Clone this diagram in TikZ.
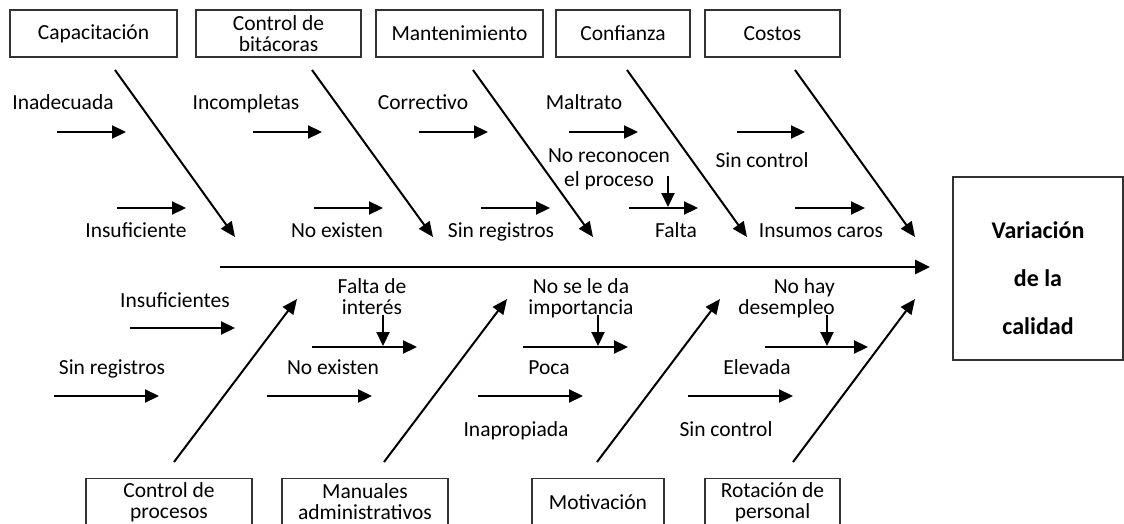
\documentclass[tikz,border=0pt]{standalone}
\usepackage{fontspec}
\setmainfont{Carlito}
\usetikzlibrary{arrows.meta}
\newcommand{\causefont}{\fontsize{21.5}{21}\selectfont}
\tikzset{
  causebox/.style={draw=black!80, line width=1.3pt, minimum height=47pt, inner sep=0pt, align=center, font=\causefont},
  effectbox/.style={draw=black!80, line width=1.6pt, inner sep=0pt},
  lbl/.style={inner sep=0pt, align=center, font=\causefont},
  sub/.style={line width=2.2pt, -{Triangle[length=14pt,width=13pt]}},
  bone/.style={line width=2pt, -{Triangle[length=15pt,width=13pt]}},
  spine/.style={line width=2.8pt, -{Triangle[length=15pt,width=14pt]}},
}

\begin{document}
\begin{tikzpicture}[x=1pt,y=-1pt]
\useasboundingbox (0,0) rectangle (1124,524);
\clip (0,0) rectangle (1124,524);

\node[effectbox, minimum width=170pt, minimum height=183pt] (effect) at (1038,268.5) {};
\node[lbl, font=\fontsize{24}{48}\selectfont\bfseries] (efftxt) at (1038,278) {Variación\\de la\\calidad};
\coordinate (tail) at (220,267);
\coordinate (head) at (930,267);
\draw[spine] (tail) -- (head);

\node[causebox, minimum width=167pt] (capac) at (93.5,33.5) {Capacitación};
\node[causebox, minimum width=165pt] (bitac) at (278.5,33.5) {Control de\\bitácoras};
\node[causebox, minimum width=167pt] (mante) at (459.5,33.5) {Mantenimiento};
\node[causebox, minimum width=134pt] (confi) at (623,33.5) {Confianza};
\node[causebox, minimum width=135pt] (costo) at (772.5,33.5) {Costos};
\node[causebox, minimum width=166pt] (proce) at (169,502) {Control de\\procesos};
\node[causebox, minimum width=166pt] (manua) at (365,502) {Manuales\\administrativos};
\node[causebox, minimum width=132pt] (motiv) at (598,502) {Motivación};
\node[causebox, minimum width=135pt] (rotac) at (772.5,502) {Rotación de\\personal};

\foreach \n/\xa/\xb in {capac/115/235, bitac/312/433, mante/473/593, confi/627/747, costo/795/915}{
  \coordinate (\n-s) at (\xa,70);
  \coordinate (\n-e) at (\xb,237);
  \draw[bone] (\n-s) -- (\n-e);
}
\foreach \n/\xa/\xb in {proce/174/297, manua/384/507, motiv/597/720, rotac/793/915}{
  \coordinate (\n-s) at (\xa,462);
  \coordinate (\n-e) at (\xb,299);
  \draw[bone] (\n-s) -- (\n-e);
}

\foreach \xa/\xb/\y [count=\i] in {57/126/132, 253/322/132, 419/488/132, 569/638/132, 737/805/132,
  117/186/208, 314/383/208, 481/550/208, 629/698/208, 795/865/208,
  130/235/328, 312/417/347, 523/628/347, 765/868/347,
  54/159/396, 267/372/396, 478/583/396, 688/793/396}{
  \coordinate (sa\i) at (\xa,\y);
  \coordinate (sb\i) at (\xb,\y);
  \draw[sub] (sa\i) -- (sb\i);
}
\foreach \x/\ya/\yb [count=\i] in {668/176/207, 383/315/346, 598/315/346, 827/315/346}{
  \coordinate (da\i) at (\x,\ya);
  \coordinate (db\i) at (\x,\yb);
  \draw[sub] (da\i) -- (db\i);
}

\node[lbl, anchor=base] (inade) at (63,110) {Inadecuada};
\node[lbl, anchor=base] (incom) at (246,110) {Incompletas};
\node[lbl, anchor=base] (corre) at (423,110) {Correctivo};
\node[lbl, anchor=base] (maltr) at (584,110) {Maltrato};
\node[lbl, anchor=base] (sincA) at (762,167) {Sin control};
\node[lbl, anchor=base] (insuf) at (136,237) {Insuficiente};
\node[lbl, anchor=base] (noexA) at (337,237) {No existen};
\node[lbl, anchor=base] (sinrA) at (501,237) {Sin registros};
\node[lbl, anchor=base] (falta) at (676,237) {Falta};
\node[lbl, anchor=base] (insum) at (821,237) {Insumos caros};
\node[lbl, font=\fontsize{21.5}{24}\selectfont] (norec) at (609,169) {No reconocen\\el proceso};
\node[lbl, anchor=base] (insfs) at (175,307) {Insuficientes};
\node[lbl, anchor=base] (sinrB) at (112,374) {Sin registros};
\node[lbl, anchor=base] (noexB) at (333,374) {No existen};
\node[lbl, anchor=base] (poca) at (549,374) {Poca};
\node[lbl, anchor=base] (eleva) at (757,374) {Elevada};
\node[lbl, anchor=base] (inapr) at (516,436) {Inapropiada};
\node[lbl, anchor=base] (sincB) at (726,436) {Sin control};
\node[lbl] (finte) at (372,297) {Falta de\\interés};
\node[lbl] (noimp) at (581,298) {No se le da\\importancia};
\node[lbl, anchor=east, align=right] (nodes) at (835,298) {No hay\\desempleo};
\end{tikzpicture}
\end{document}
